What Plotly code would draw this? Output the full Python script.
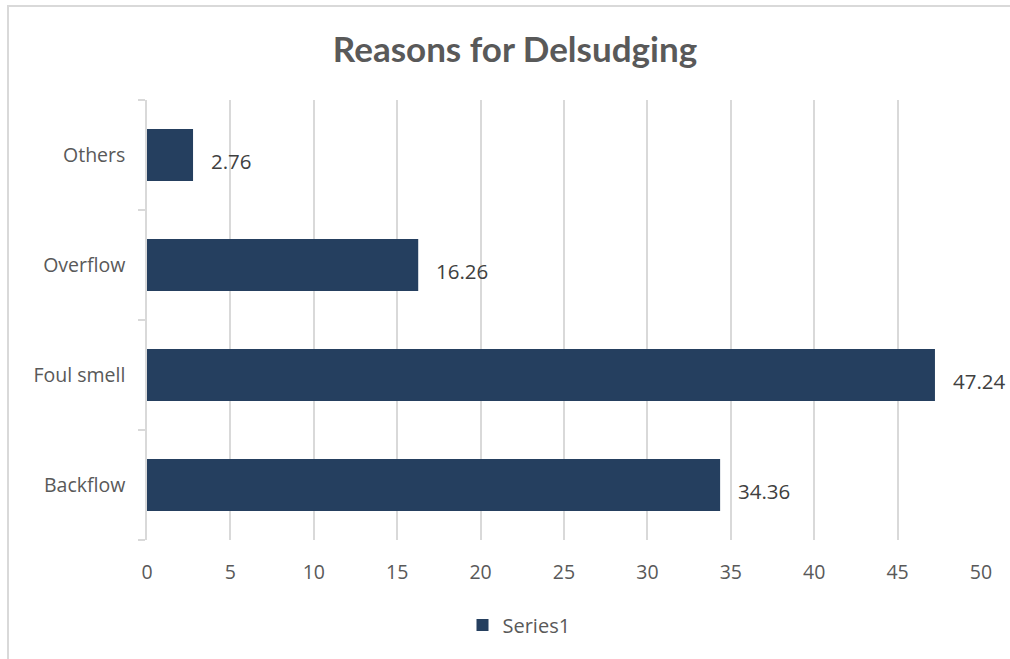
import plotly.graph_objects as go

categories = ["Backflow", "Foul smell", "Overflow", "Others"]
values = [34.36, 47.24, 16.26, 2.76]
x_ticks = [0, 5, 10, 15, 20, 25, 30, 35, 40, 45, 50]
series_name = "Series1"

bar_color = "#253F5F"
grid_color = "#D9D9D9"
text_color = "#595959"
label_color = "#404040"
font_family = "Open Sans, Noto Sans, sans-serif"

fig = go.Figure()
fig.add_trace(go.Bar(
    x=values, y=categories, orientation="h",
    marker=dict(color=bar_color, line=dict(width=0)),
    name=series_name, showlegend=True,
))

for v, c in zip(values, categories):
    fig.add_annotation(
        x=v, y=c, xref="x", yref="y", text=f"{v:.2f}", showarrow=False,
        xanchor="left", yanchor="middle", xshift=16, yshift=-6,
        font=dict(family=font_family, size=20.5, color=label_color),
    )

L, R, T, B = 147, 29, 100, 119
W, H = 1010, 659
pw, ph = W - L - R, H - T - B

def px_to_paper_x(px):
    return (px - L) / pw

def py_to_paper_y(py):
    return (H - B - py) / ph

# chart border
fig.add_shape(type="rect", xref="paper", yref="paper",
              x0=px_to_paper_x(8), x1=px_to_paper_x(1030),
              y0=py_to_paper_y(690), y1=py_to_paper_y(6),
              line=dict(color=grid_color, width=2), fillcolor="rgba(0,0,0,0)", layer="below")

fig.update_layout(
    width=W, height=H,
    margin=dict(l=L, r=R, t=T, b=B, pad=0),
    paper_bgcolor="white", plot_bgcolor="white",
    title=dict(text="<b>Reasons for Delsudging</b>", x=px_to_paper_x(515), xref="paper",
               xanchor="center", y=1 - 50 / H, yanchor="middle",
               font=dict(family="Lato, Open Sans, sans-serif", size=35, color=text_color)),
    bargap=0.527,
    showlegend=True,
    legend=dict(orientation="h", x=px_to_paper_x(519), xanchor="center",
                y=py_to_paper_y(625), yanchor="middle",
                font=dict(family=font_family, size=20, color=text_color),
                bgcolor="rgba(0,0,0,0)"),
    xaxis=dict(range=[0, 50], tickvals=x_ticks, showgrid=True, gridcolor=grid_color,
               gridwidth=1.5, zeroline=False, showline=False, ticks="",
               tickfont=dict(family=font_family, size=19.5, color=text_color),
               ticklabelstandoff=18),
    yaxis=dict(categoryorder="array", categoryarray=categories, showgrid=False,
               showline=True, linecolor=grid_color, linewidth=1.5,
               ticks="outside", ticklen=7, tickcolor=grid_color, tickwidth=1.5,
               tickson="boundaries", zeroline=False,
               tickfont=dict(family=font_family, size=19.5, color=text_color),
               ticklabelstandoff=16),
)

fig.write_html("out.html")
